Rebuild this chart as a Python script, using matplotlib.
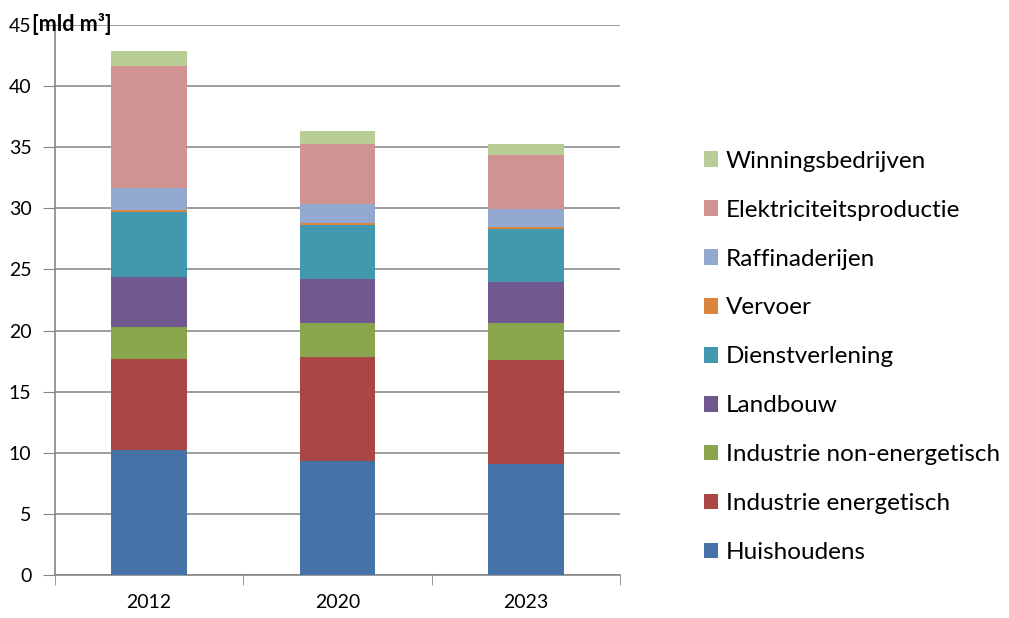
import matplotlib
matplotlib.use("Agg")
import matplotlib.pyplot as plt
import numpy as np

# Gasverbruik per sector [mld m3]
years = ["2012", "2020", "2023"]
sectors = ["Huishoudens", "Industrie energetisch", "Industrie non-energetisch",
           "Landbouw", "Dienstverlening", "Vervoer", "Raffinaderijen",
           "Elektriciteitsproductie", "Winningsbedrijven"]
huishoudens = [10.25, 9.35, 9.1]
ind_energetisch = [7.45, 8.5, 8.5]
ind_non_energetisch = [2.6, 2.8, 3.0]
landbouw = [4.1, 3.55, 3.4]
dienstverlening = [5.33, 4.46, 4.33]
vervoer = [0.12, 0.17, 0.14]
raffinaderijen = [1.79, 1.5, 1.45]
elektriciteit = [10.02, 4.92, 4.42]
winning = [1.18, 1.04, 0.93]
series = [huishoudens, ind_energetisch, ind_non_energetisch, landbouw,
          dienstverlening, vervoer, raffinaderijen, elektriciteit, winning]
colors = ["#4572A7", "#AA4643", "#89A54E", "#71588F", "#4198AF",
          "#DB843D", "#93A9CF", "#D19392", "#B9CD96"]

plt.rcParams['font.family'] = ['Lato', 'DejaVu Sans']

fig = plt.figure(figsize=(10.09, 6.18), dpi=100)
ax = fig.add_axes([0.0545, 0.0696, 0.56, 0.89])

x = np.arange(len(years))
bottom = np.zeros(len(years))
handles = []
for vals, col, name in zip(series, colors, sectors):
    h = ax.bar(x, vals, width=0.4, bottom=bottom, color=col, label=name, zorder=3)
    handles.append(h)
    bottom += np.array(vals)

ax.set_xlim(-0.5, 2.5)
ax.set_ylim(0, 45)
ax.set_yticks(range(0, 46, 5))
ax.set_xticks(x)
ax.set_xticklabels(years)
ax.set_xticks([-0.5, 0.5, 1.5, 2.5], minor=True)
ax.tick_params(axis='x', which='major', length=0, pad=14, labelsize=14)
ax.tick_params(axis='x', which='minor', length=7, color='#868686')
ax.tick_params(axis='y', length=9, color='#868686', labelsize=14, pad=8)
ax.grid(axis='y', color='#8c8c8c', linewidth=1.2, zorder=0)
for s in ['top', 'right']:
    ax.spines[s].set_visible(False)
for s in ['left', 'bottom']:
    ax.spines[s].set_color('#868686')
    ax.spines[s].set_linewidth(1.2)

fig.text(0.032, 0.95, "[mld m³]", fontsize=15.5, fontweight='bold')

leg = fig.legend(handles[::-1], sectors[::-1], loc='upper left',
                 bbox_to_anchor=(0.688, 0.772), frameon=False, fontsize=17.5,
                 handlelength=0.6, handleheight=0.6, handletextpad=0.3,
                 labelspacing=1.15, borderaxespad=0)

fig.savefig("out.png", dpi=100)
